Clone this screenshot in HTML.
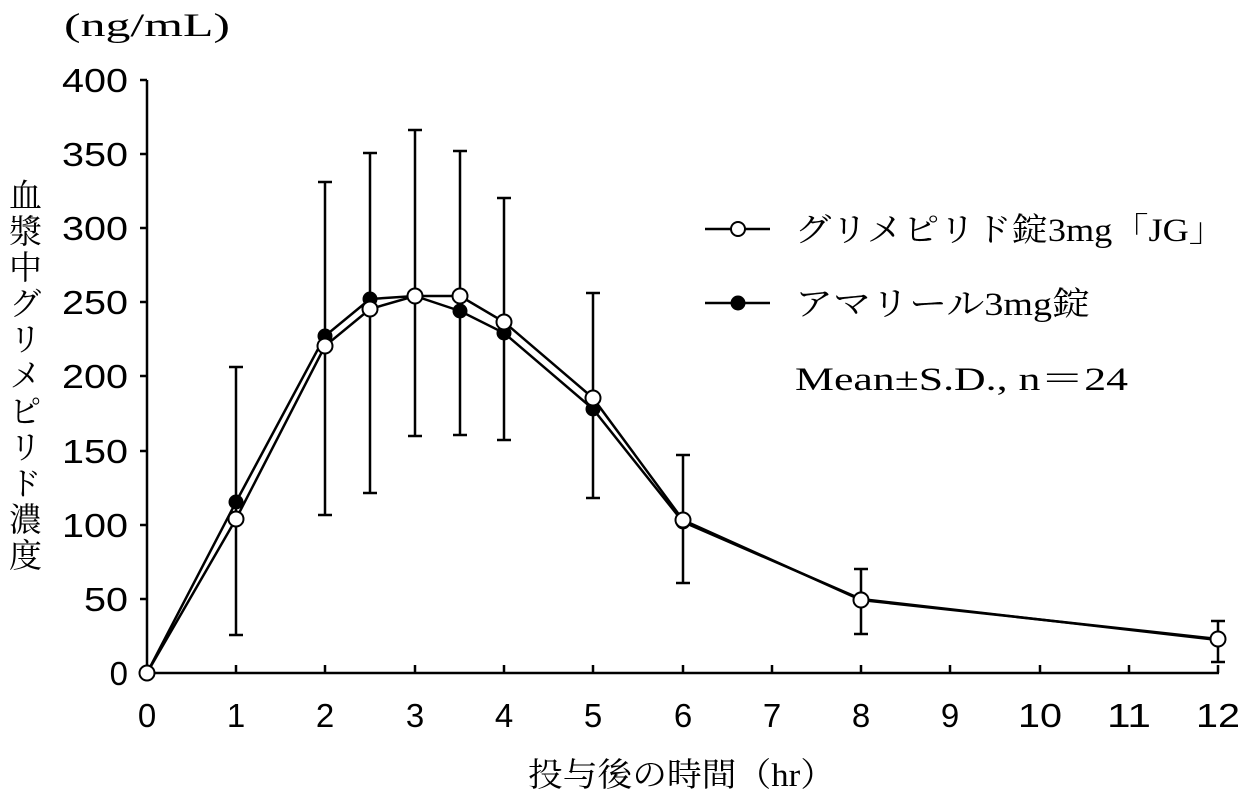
<!DOCTYPE html>
<html><head><meta charset="utf-8"><style>
html,body{margin:0;padding:0;background:#fff;width:1244px;height:801px;overflow:hidden}
svg text{fill:#000}
.t{font-family:"Liberation Sans","Noto Sans CJK JP",sans-serif;font-size:33px}
.s{font-family:"Liberation Serif","Noto Serif CJK SC",serif;font-size:33px}
</style></head><body>
<svg width="1244" height="801" viewBox="0 0 1244 801" xmlns="http://www.w3.org/2000/svg">
<g stroke="#000" stroke-width="2.5" fill="none">
<path d="M147 80V673H1219"/>
<path d="M140 80H147M140 154H147M140 228H147M140 302H147M140 376H147M140 451H147M140 525H147M140 599H147M140 673H147"/>
<path d="M236 673v-8M325 673v-8M415 673v-8M504 673v-8M593 673v-8M683 673v-8M772 673v-8M861 673v-8M950 673v-8M1040 673v-8M1129 673v-8M1218 673v-8"/>
<path d="M236 367V635M229 367H243M229 635H243"/>
<path d="M325 182V515M318 182H332M318 515H332"/>
<path d="M370 153V493M363 153H377M363 493H377"/>
<path d="M415 130V436M408 130H422M408 436H422"/>
<path d="M460 151V435M453 151H467M453 435H467"/>
<path d="M504 198V440M497 198H511M497 440H511"/>
<path d="M593 293V498M586 293H600M586 498H600"/>
<path d="M683 455V583M676 455H690M676 583H690"/>
<path d="M861 569V634M854 569H868M854 634H868"/>
<path d="M1218 621V662M1211 621H1225M1211 662H1225"/>
<polyline points="147,673 236,502 325,336 370,299 415,296 460,311 504,333 593,409 683,522 861,599 1218,640"/>
<polyline points="147,673 236,519 325,346 370,309 415,296 460,296 504,322 593,398 683,520 861,600 1218,639"/>
<path d="M705 229H770M705 303H770"/>
</g>
<g fill="#000">
<circle cx="236" cy="502" r="7.5"/><circle cx="325" cy="336" r="7.5"/><circle cx="370" cy="299" r="7.5"/><circle cx="415" cy="296" r="7.5"/><circle cx="460" cy="311" r="7.5"/><circle cx="504" cy="333" r="7.5"/><circle cx="593" cy="409" r="7.5"/><circle cx="683" cy="522" r="7.5"/><circle cx="861" cy="599" r="7.5"/><circle cx="1218" cy="640" r="7.5"/>
<circle cx="738" cy="303" r="7.5"/>
</g>
<g fill="#fff" stroke="#000" stroke-width="2">
<circle cx="147" cy="673" r="7.5"/><circle cx="236" cy="519" r="7.5"/><circle cx="325" cy="346" r="7.5"/><circle cx="370" cy="309" r="7.5"/><circle cx="415" cy="296" r="7.5"/><circle cx="460" cy="296" r="7.5"/><circle cx="504" cy="322" r="7.5"/><circle cx="593" cy="398" r="7.5"/><circle cx="683" cy="520" r="7.5"/><circle cx="861" cy="600" r="7.5"/><circle cx="1218" cy="639" r="7.5"/>
<circle cx="738" cy="229" r="7"/>
</g>
<g class="t" text-anchor="end" lengthAdjust="spacingAndGlyphs">
<text x="128" y="92" textLength="66" lengthAdjust="spacingAndGlyphs">400</text><text x="128" y="166" textLength="66" lengthAdjust="spacingAndGlyphs">350</text><text x="128" y="240" textLength="66" lengthAdjust="spacingAndGlyphs">300</text><text x="128" y="314" textLength="66" lengthAdjust="spacingAndGlyphs">250</text><text x="128" y="388" textLength="66" lengthAdjust="spacingAndGlyphs">200</text><text x="128" y="463" textLength="66" lengthAdjust="spacingAndGlyphs">150</text><text x="128" y="537" textLength="66" lengthAdjust="spacingAndGlyphs">100</text><text x="128" y="611" textLength="44" lengthAdjust="spacingAndGlyphs">50</text><text x="128" y="685">0</text>
</g>
<g class="t" text-anchor="middle">
<text x="147" y="727">0</text><text x="236" y="727">1</text><text x="325" y="727">2</text><text x="415" y="727">3</text><text x="504" y="727">4</text><text x="593" y="727">5</text><text x="683" y="727">6</text><text x="772" y="727">7</text><text x="861" y="727">8</text><text x="950" y="727">9</text><text x="1040" y="727" textLength="44" lengthAdjust="spacingAndGlyphs">10</text><text x="1129" y="727" textLength="44" lengthAdjust="spacingAndGlyphs">11</text><text x="1218" y="727" textLength="44" lengthAdjust="spacingAndGlyphs">12</text>
</g>
<text class="s" x="64" y="36" textLength="166" lengthAdjust="spacingAndGlyphs">(ng/mL)</text>
<text class="s" x="528" y="786" textLength="307" lengthAdjust="spacingAndGlyphs">投与後の時間（hr）</text>
<text class="s" x="22" y="178" style="writing-mode:vertical-rl;letter-spacing:3px">血漿中グリメピリド濃度</text>
<text class="s" x="795" y="241" textLength="430" lengthAdjust="spacingAndGlyphs">グリメピリド錠3mg「JG」</text>
<text class="s" x="795" y="315" textLength="295" lengthAdjust="spacingAndGlyphs">アマリール3mg錠</text>
<text class="s" x="795" y="390" textLength="333" lengthAdjust="spacingAndGlyphs">Mean±S.D., n＝24</text>
</svg>
</body></html>
